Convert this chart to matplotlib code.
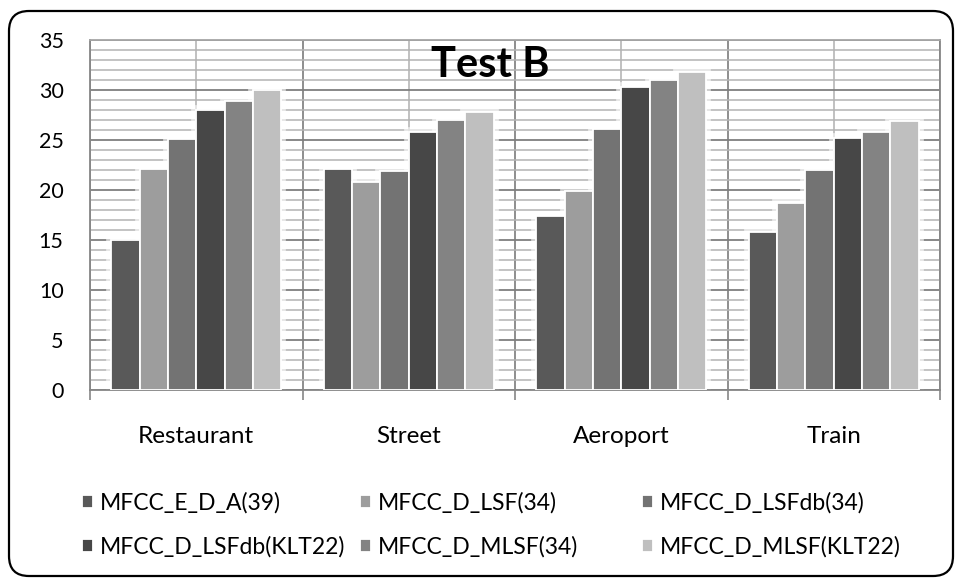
import numpy as np
import matplotlib
matplotlib.use("Agg")
import matplotlib.pyplot as plt
from matplotlib.patches import FancyBboxPatch
from matplotlib.ticker import MultipleLocator, FixedLocator

plt.rcParams['font.family'] = ['Lato', 'DejaVu Sans']

categories = ["Restaurant", "Street", "Aeroport", "Train"]
series_names = [
    "MFCC_E_D_A(39)",
    "MFCC_D_LSF(34)",
    "MFCC_D_LSFdb(34)",
    "MFCC_D_LSFdb(KLT22)",
    "MFCC_D_MLSF(34)",
    "MFCC_D_MLSF(KLT22)",
]
mfcc_e_d_a_39 = [15.0, 22.1, 17.4, 15.8]
mfcc_d_lsf_34 = [22.1, 20.8, 19.9, 18.7]
mfcc_d_lsfdb_34 = [25.1, 21.9, 26.1, 22.0]
mfcc_d_lsfdb_klt22 = [28.0, 25.8, 30.3, 25.2]
mfcc_d_mlsf_34 = [28.9, 27.0, 31.0, 25.8]
mfcc_d_mlsf_klt22 = [30.0, 27.8, 31.8, 26.9]
series_values = [mfcc_e_d_a_39, mfcc_d_lsf_34, mfcc_d_lsfdb_34,
                 mfcc_d_lsfdb_klt22, mfcc_d_mlsf_34, mfcc_d_mlsf_klt22]
colors = ["#595959", "#9d9d9d", "#737373", "#474747", "#838383", "#bfbfbf"]
y_ticks = [0, 5, 10, 15, 20, 25, 30, 35]

W, H = 959, 583
fig = plt.figure(figsize=(W / 100, H / 100), dpi=100)
fig.patch.set_facecolor("white")

left, right, top, bottom = 90, 940, 40, 390
ax = fig.add_axes([left / W, 1 - bottom / H, (right - left) / W, (bottom - top) / H])

x = np.arange(len(categories))
n = len(series_values)
group_w = 0.8
bw = group_w / n
offsets = (np.arange(n) - (n - 1) / 2) * bw

# soft white halo behind the bars
for i, vals in enumerate(series_values):
    ax.bar(x + offsets[i], vals, bw, color="white", edgecolor="white",
           linewidth=7, alpha=0.6, zorder=2)

handles = []
for i, vals in enumerate(series_values):
    b = ax.bar(x + offsets[i], vals, bw, color=colors[i], edgecolor="white",
               linewidth=1.3, zorder=3, label=series_names[i])
    handles.append(b)

ax.set_xlim(-0.5, len(categories) - 0.5)
ax.set_ylim(0, 35)

# y axis: major every 5, minor every 1
ax.yaxis.set_major_locator(FixedLocator(y_ticks))
ax.yaxis.set_minor_locator(MultipleLocator(1))
ax.tick_params(axis="y", which="both", length=0, pad=19, labelsize=15.5,
               labelcolor="black")

# x axis: boundaries as major ticks, category centers as minor ticks with labels
ax.xaxis.set_major_locator(FixedLocator(np.arange(len(categories) + 1) - 0.5))
ax.xaxis.set_minor_locator(FixedLocator(x))
ax.set_xticklabels([""] * (len(categories) + 1))
ax.set_xticks(x, categories, minor=True)
ax.tick_params(axis="x", which="major", length=7.5, width=1.2, color="#868686")
ax.tick_params(axis="x", which="minor", length=0, pad=26, labelsize=17.5)

ax.set_axisbelow(True)
ax.grid(which="major", axis="y", color="#7f7f7f", linewidth=1.3)
ax.grid(which="minor", axis="y", color="#b3b3b3", linewidth=1.1)
ax.grid(which="major", axis="x", color="#868686", linewidth=1.3)
ax.grid(which="minor", axis="x", color="#b0b0b0", linewidth=1.1)

for s in ax.spines.values():
    s.set_color("#868686")
    s.set_linewidth(1.3)
ax.spines["top"].set_color("#a6a6a6")

fig.text(490 / W, 1 - 77 / H, "Test B", ha="center", va="baseline",
         fontsize=30, fontweight="bold", color="black")

# legend laid out in three fixed columns, two rows
col_x = [82, 360, 642]
for c in range(3):
    hs = [handles[c], handles[c + 3]]
    fig.legend(hs, [series_names[c], series_names[c + 3]],
               loc="upper left", bbox_to_anchor=(col_x[c] / W, 1 - 492 / H),
               frameon=False, fontsize=16.5, handlelength=0.5, handleheight=0.5,
               handletextpad=0.3, labelspacing=1.0, borderaxespad=0,
               borderpad=0)

frame = FancyBboxPatch((9 / 100, 7 / 100), (953 - 9) / 100, (576 - 11) / 100,
                       boxstyle="round,pad=0,rounding_size=0.2",
                       transform=fig.dpi_scale_trans, fill=False,
                       edgecolor="black", linewidth=1.6)
fig.add_artist(frame)

fig.savefig("out.png", dpi=100)
